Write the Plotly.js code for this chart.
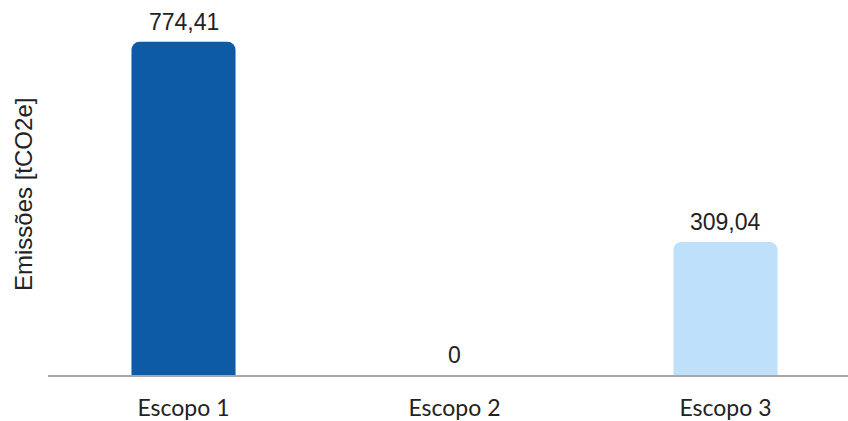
<!DOCTYPE html>
<html>
<head>
<meta charset="utf-8">
<script src="https://cdn.plot.ly/plotly-3.0.1.min.js"></script>
<style>
  html, body { margin: 0; padding: 0; background: #ffffff; }
  #chart { width: 848px; height: 421px; }
</style>
</head>
<body>
<div id="chart"></div>
<script>
// Emissions per scope (tCO2e)
const scopes = ["Escopo 1", "Escopo 2", "Escopo 3"];
const emissions = [774.41, 0, 309.04];
const barColors = ["#0d5ba6", "#0d5ba6", "#bee0fb"];
const yTitle = "Emissões [tCO2e]";

// Brazilian number format: comma as decimal separator
const valueLabels = emissions.map(v =>
  v === 0 ? "0" : v.toFixed(2).replace(".", ",")
);

const trace = {
  type: "bar",
  x: scopes,
  y: emissions,
  marker: { color: barColors, cornerradius: 8 },
  hoverinfo: "skip"
};

const labelFont = { family: "Liberation Sans, Arial, sans-serif", size: 23, color: "#222222" };

// Value labels sit above each bar, anchored at the bar's value
const labelAnnotations = scopes.map((s, i) => ({
  x: s,
  y: emissions[i],
  xref: "x",
  yref: "y",
  text: valueLabels[i],
  showarrow: false,
  yanchor: "bottom",
  yshift: 5,
  font: labelFont
}));

// Vertical y-axis title placed just left of the plot area
const titleAnnotation = {
  xref: "paper",
  yref: "paper",
  x: 0,
  y: 0.5,
  xanchor: "center",
  yanchor: "middle",
  xshift: -25,
  yshift: -2,
  textangle: -90,
  text: yTitle,
  showarrow: false,
  font: { family: "Liberation Sans, Arial, sans-serif", size: 24, color: "#222222" }
};

const layout = {
  width: 848,
  height: 421,
  margin: { l: 48, r: 0, t: 11, b: 46 },
  paper_bgcolor: "#ffffff",
  plot_bgcolor: "#ffffff",
  bargap: 0.616,
  showlegend: false,
  annotations: labelAnnotations.concat([titleAnnotation]),
  xaxis: {
    type: "category",
    range: [-0.5, 2.452],
    showline: true,
    linecolor: "#a8a8a8",
    linewidth: 2,
    ticks: "",
    showgrid: false,
    zeroline: false,
    tickfont: { family: "Lato, sans-serif", size: 23, color: "#222222" },
    ticklabelstandoff: 11
  },
  yaxis: {
    range: [0, 846],
    showgrid: false,
    zeroline: false,
    showline: false,
    showticklabels: false,
    ticks: ""
  }
};

Plotly.newPlot("chart", [trace], layout, { staticPlot: true, displayModeBar: false });
</script>
</body>
</html>
